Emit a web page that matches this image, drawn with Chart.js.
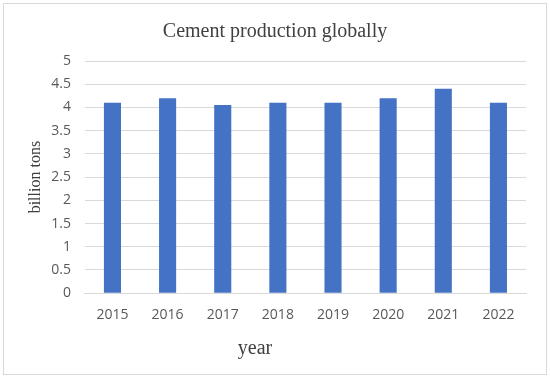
<!DOCTYPE html>
<html>
<head>
<meta charset="utf-8">
<script src="https://cdn.jsdelivr.net/npm/chart.js@4/dist/chart.umd.min.js"></script>
<style>
  html, body { margin: 0; padding: 0; background: #fff; }
  #wrap { width: 550px; height: 379px; }
</style>
</head>
<body>
<div id="wrap"><canvas id="mycanvas" width="550" height="379"></canvas></div>
<script>
var years = ['2015', '2016', '2017', '2018', '2019', '2020', '2021', '2022'];
var production = [4.1, 4.2, 4.05, 4.1, 4.1, 4.2, 4.4, 4.1];
var yTicks = [0, 0.5, 1, 1.5, 2, 2.5, 3, 3.5, 4, 4.5, 5];

// light grey frame round the whole chart, and the "year" caption
// (the caption sits left of the plot centre in the original)
var frame = {
    id: 'frame',
    beforeDraw: function(chart) {
        var c = chart.ctx;
        c.save();
        c.fillStyle = '#ffffff';
        c.fillRect(0, 0, chart.width, chart.height);
        c.strokeStyle = '#d9d9d9';
        c.lineWidth = 1;
        c.strokeRect(3.5, 3.5, chart.width - 7, chart.height - 8);
        c.restore();
    },
    afterDraw: function(chart) {
        var c = chart.ctx;
        c.save();
        c.fillStyle = '#404040';
        c.font = '20px "Liberation Serif", serif';
        c.textAlign = 'center';
        c.textBaseline = 'middle';
        c.fillText('year', 255, 349);
        c.restore();
    }
};

var chartdata = {
    labels: years,
    datasets: [{
        label: 'Cement production',
        backgroundColor: '#4472c4',
        borderWidth: 0,
        data: production,
        categoryPercentage: 1,
        barPercentage: 0.31
    }]
};

new Chart(document.getElementById('mycanvas'), {
    type: 'bar',
    data: chartdata,
    plugins: [frame],
    options: {
        responsive: false,
        animation: false,
        layout: { padding: { left: 24, right: 24, top: 6, bottom: 43 } },
        plugins: {
            legend: { display: false },
            tooltip: { enabled: false },
            title: {
                display: true,
                text: 'Cement production globally',
                color: '#404040',
                font: { family: '"Liberation Serif", serif', size: 20, weight: 'normal' },
                padding: { top: 14, bottom: 17 }
            }
        },
        scales: {
            x: {
                grid: { display: false, drawTicks: false },
                border: { color: '#d9d9d9' },
                ticks: {
                    color: '#595959',
                    font: { family: '"Open Sans", sans-serif', size: 14 },
                    padding: 13
                }
            },
            y: {
                min: 0,
                max: 5,
                afterBuildTicks: function(axis) {
                    axis.ticks = yTicks.map(function(v) { return { value: v }; });
                },
                grid: { color: '#d9d9d9', drawTicks: false },
                border: { display: false },
                ticks: {
                    color: '#595959',
                    font: { family: '"Open Sans", sans-serif', size: 14 },
                    padding: 14,
                    callback: function(v) { return String(v); }
                },
                title: {
                    display: true,
                    text: 'billion tons',
                    color: '#404040',
                    font: { family: '"Liberation Serif", serif', size: 16 },
                    padding: { top: 2, bottom: -8 }
                }
            }
        }
    }
});
</script>
</body>
</html>
